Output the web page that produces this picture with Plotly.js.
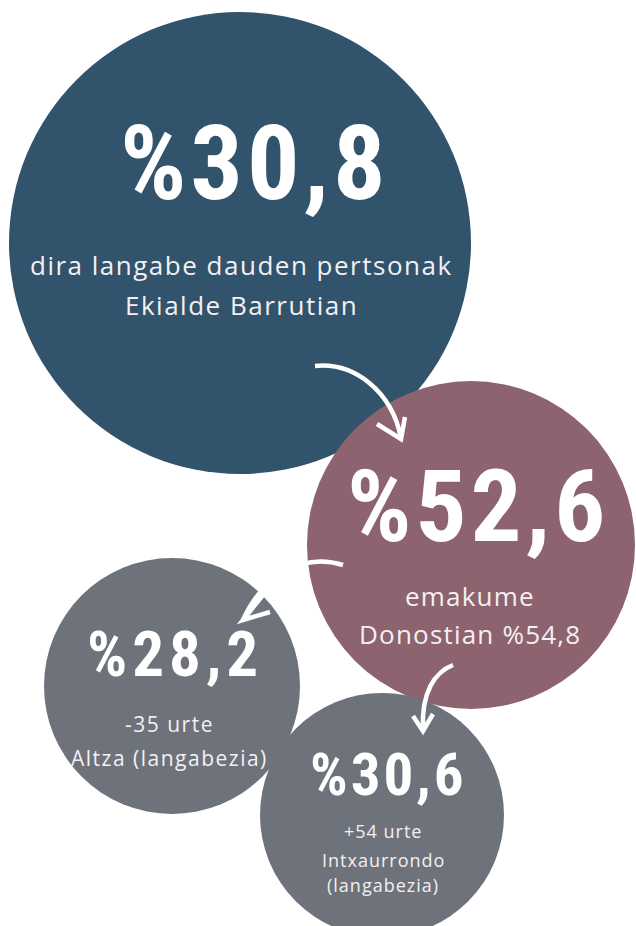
<!DOCTYPE html>
<html>
<head>
<meta charset="utf-8">
<script src="https://cdn.plot.ly/plotly-3.0.1.min.js"></script>
<style>html,body{margin:0;padding:0;background:#fff;}#chart{width:636px;height:926px;}</style>
</head>
<body>
<div id="chart"></div>
<script>
// ---- data ----
const values = [30.8, 52.6, 28.2, 30.6];
const labelLines = [
  ["dira langabe dauden pertsonak", "Ekialde Barrutian"],
  ["emakume", "Donostian %54,8"],
  ["-35 urte", "Altza (langabezia)"],
  ["+54 urte", "Intxaurrondo", "(langabezia)"]
];
const colors = ["#32536c", "#8c636e", "#6e727b", "#6e727b"];

// ---- layout (pixel space) ----
const cx = [240, 471, 172, 382];
const cy = [243, 545, 686, 815];
const radius = [231, 164, 128, 122];
const numX = [255, 478, 175, 388];
const numBase = [200, 542, 677, 795];
const numSize = [104, 101, 63, 59];
const numSpacing = [4, 4, 5, 3];
const labX = [241, 470, 169, 383];
const labBase = [[274, 314], [605, 643], [731, 765], [837, 866, 891]];
const labSize = [26, 26, 21, 18];
const labSpacing = [1.5, 1.2, 1.5, 1];

const fmt = v => '%' + v.toFixed(1).replace('.', ',');
const spaced = (t, s) => '<span style="letter-spacing:' + s + 'px">' + t + '</span>';

const trace = {
  type: 'scatter', mode: 'markers',
  x: cx, y: cy,
  marker: {size: radius.map(r => 2 * r), sizemode: 'diameter', color: colors, opacity: 1, line: {width: 0}},
  hoverinfo: 'skip', showlegend: false
};

const annotations = [];
values.forEach((v, i) => {
  annotations.push({
    x: numX[i], y: numBase[i] - 0.35 * numSize[i], xref: 'x', yref: 'y', showarrow: false,
    text: spaced(fmt(v), numSpacing[i]), xanchor: 'center', yanchor: 'middle',
    font: {family: 'Roboto Condensed', size: numSize[i], color: '#ffffff', weight: 700}
  });
  labelLines[i].forEach((line, j) => {
    annotations.push({
      x: labX[i], y: labBase[i][j] - 0.35 * labSize[i], xref: 'x', yref: 'y', showarrow: false,
      text: spaced(line, labSpacing[i]), xanchor: 'center', yanchor: 'middle', align: 'center',
      font: {family: 'Open Sans', size: labSize[i], color: '#f4f0f2'}
    });
  });
});

const arrowStyle = {type: 'path', layer: 'above', line: {color: '#ffffff', width: 4.5}, xref: 'x', yref: 'y'};
const shapes = [
  Object.assign({path: 'M 315,366 C 355,362 392,392 401,438'}, arrowStyle),
  Object.assign({path: 'M 377,424 L 401,439 L 405,417'}, arrowStyle),
  Object.assign({path: 'M 343,565 C 300,552 262,578 243,620'}, arrowStyle),
  Object.assign({path: 'M 270,612 L 243,620 L 267,590'}, arrowStyle),
  Object.assign({path: 'M 453,665 C 435,672 421,692 423,730'}, arrowStyle),
  Object.assign({path: 'M 413,716 L 423,731 L 433,714'}, arrowStyle)
];

const layout = {
  width: 636, height: 926,
  margin: {l: 0, r: 0, t: 0, b: 0},
  paper_bgcolor: '#ffffff', plot_bgcolor: '#ffffff',
  xaxis: {range: [0, 636], visible: false, fixedrange: true},
  yaxis: {range: [926, 0], visible: false, fixedrange: true},
  annotations: annotations, shapes: shapes, showlegend: false
};

Plotly.newPlot('chart', [trace], layout, {displayModeBar: false, staticPlot: true});
</script>
</body>
</html>
